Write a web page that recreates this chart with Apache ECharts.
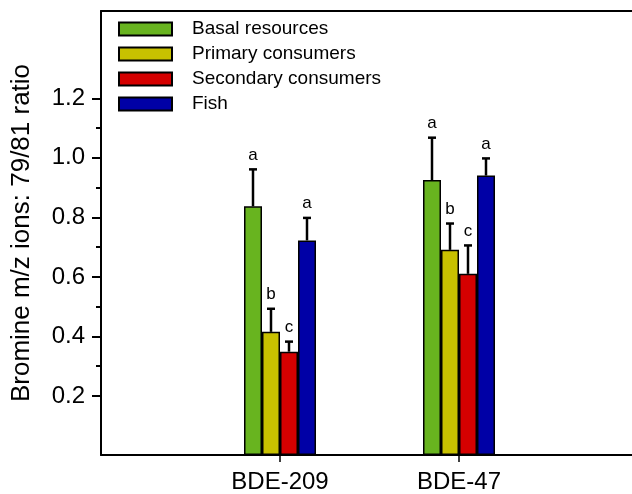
<!DOCTYPE html>
<html>
<head>
<meta charset="utf-8">
<script src="https://cdn.jsdelivr.net/npm/echarts@6/dist/echarts.min.js"></script>
<style>
  html, body { margin: 0; padding: 0; background: #fff; overflow: hidden; width: 632px; height: 494px; }
  #chart { width: 660px; height: 494px; }
</style>
</head>
<body>
<div id="chart"></div>
<script>
// Compound groups on the x axis
const categories = ['BDE-209', 'BDE-47'];

// Trophic groups (legend order)
const groupNames = ['Basal resources', 'Primary consumers', 'Secondary consumers', 'Fish'];
const groupColors = ['#68b41f', '#c8c100', '#d50000', '#0000a6'];

// Mean 79/81 ratio per compound
const basalMean = [0.840, 0.929];
const primaryMean = [0.416, 0.693];
const secondaryMean = [0.349, 0.612];
const fishMean = [0.725, 0.944];

// Upper error (SE) per compound
const basalErr = [0.125, 0.143];
const primaryErr = [0.078, 0.089];
const secondaryErr = [0.034, 0.096];
const fishErr = [0.076, 0.058];

// Significance letters
const basalLetters = ['a', 'a'];
const primaryLetters = ['b', 'b'];
const secondaryLetters = ['c', 'c'];
const fishLetters = ['a', 'a'];

// Labelled y ticks
const yTickValues = [0.2, 0.4, 0.6, 0.8, 1.0, 1.2];
const yMax = 1.5;

const means = [basalMean, primaryMean, secondaryMean, fishMean];
const errs = [basalErr, primaryErr, secondaryErr, fishErr];
const letters = [basalLetters, primaryLetters, secondaryLetters, fishLetters];

// Categories padded with empty slots so the groups sit at evenly spaced ticks
const axisCats = [''].concat(categories, ['']);

const BAR_W = 18;
const FONT = 'Liberation Sans, Arial, sans-serif';
// The frame runs on past the right edge of the visible page
const GRID_LEFT = 101;
const GRID_WIDTH = 537;

const barSeries = groupNames.map((name, g) => ({
  name: name,
  type: 'bar',
  xAxisIndex: 0,
  yAxisIndex: 0,
  barWidth: BAR_W,
  barGap: '0%',
  itemStyle: { color: groupColors[g], borderColor: '#000', borderWidth: 1.5 },
  data: categories.map((c, i) => [i + 1, means[g][i]])
}));

// Upward error whiskers with caps and the significance letter on top
const errSeries = groupNames.map((name, g) => ({
  type: 'custom',
  xAxisIndex: 0,
  yAxisIndex: 0,
  z: 5,
  silent: true,
  clip: false,
  data: categories.map((c, i) => [i + 1, means[g][i], errs[g][i]]),
  renderItem: function (params, api) {
    const layout = api.barLayout({ count: 4, barWidth: BAR_W, barGap: '0%' });
    const cat = api.value(0);
    const m = api.value(1);
    const e = api.value(2);
    const base = api.coord([cat, m]);
    const top = api.coord([cat, m + e]);
    const x = base[0] + layout[g].offsetCenter;
    const letter = letters[g][cat - 1];
    return {
      type: 'group',
      children: [
        { type: 'line', shape: { x1: x, y1: base[1], x2: x, y2: top[1] },
          style: { stroke: '#000', lineWidth: 2.5 } },
        { type: 'line', shape: { x1: x - 4, y1: top[1], x2: x + 4, y2: top[1] },
          style: { stroke: '#000', lineWidth: 2.5 } },
        { type: 'text', x: x, y: top[1] - 6,
          style: { text: letter, fill: '#000', font: '17px ' + FONT,
                   textAlign: 'center', textVerticalAlign: 'bottom' } }
      ]
    };
  }
}));

const chart = echarts.init(document.getElementById('chart'), null, { renderer: 'canvas' });

chart.setOption({
  animation: false,
  textStyle: { fontFamily: FONT },
  grid: [
    // main plotting frame
    { left: GRID_LEFT, width: GRID_WIDTH, top: 11, bottom: 39,
      outerBoundsMode: 'none', containLabel: false },
    // span of the labelled ticks
    { left: GRID_LEFT, width: GRID_WIDTH, top: 98.3, bottom: 98,
      outerBoundsMode: 'none', containLabel: false }
  ],
  legend: {
    orient: 'vertical',
    left: 118,
    top: 19,
    padding: 0,
    itemGap: 5,
    itemWidth: 53,
    itemHeight: 13,
    icon: 'rect',
    data: groupNames,
    textStyle: { fontSize: 19, color: '#000', lineHeight: 20, padding: [0, 0, 0, 15], fontFamily: FONT }
  },
  xAxis: [
    {
      type: 'category',
      gridIndex: 0,
      data: axisCats,
      boundaryGap: false,
      axisLine: { show: true, lineStyle: { color: '#000', width: 2 } },
      axisTick: { show: true, length: 7, lineStyle: { color: '#000', width: 1.5 },
                  interval: (i, v) => v !== '' },
      axisLabel: { show: true, color: '#000', fontSize: 24, margin: 15,
                   interval: (i, v) => v !== '' },
      splitLine: { show: false }
    },
    { type: 'value', gridIndex: 1, show: false },
    // top edge of the frame
    {
      type: 'category',
      gridIndex: 0,
      position: 'top',
      data: axisCats,
      boundaryGap: false,
      axisLine: { show: true, lineStyle: { color: '#000', width: 2 } },
      axisTick: { show: false },
      axisLabel: { show: false },
      splitLine: { show: false }
    }
  ],
  yAxis: [
    {
      type: 'value',
      gridIndex: 0,
      min: 0,
      max: yMax,
      axisLine: { show: true, lineStyle: { color: '#000', width: 2 } },
      axisTick: { show: false },
      axisLabel: { show: false },
      splitLine: { show: false },
      name: 'Bromine m/z ions: 79/81 ratio',
      nameLocation: 'middle',
      nameRotate: 90,
      nameGap: 66,
      nameTextStyle: { color: '#000', fontSize: 26, fontFamily: FONT }
    },
    {
      type: 'value',
      gridIndex: 1,
      min: yTickValues[0],
      max: yTickValues[yTickValues.length - 1],
      interval: 0.2,
      axisLine: { show: false },
      axisTick: { show: true, length: 9, lineStyle: { color: '#000', width: 2 } },
      minorTick: { show: true, splitNumber: 2, length: 5, lineStyle: { color: '#000', width: 2 } },
      axisLabel: { show: true, color: '#000', fontSize: 24, margin: 16,
                   formatter: v => v.toFixed(1) },
      splitLine: { show: false }
    }
  ],
  series: barSeries.concat(errSeries)
});
</script>
</body>
</html>
